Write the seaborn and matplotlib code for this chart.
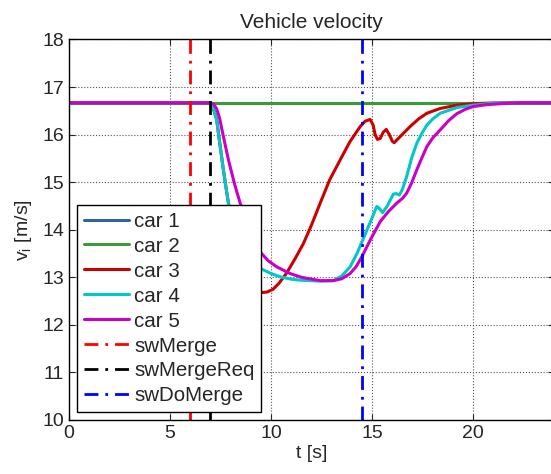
import numpy as np
import pandas as pd
import matplotlib
matplotlib.use('Agg')
import matplotlib.pyplot as plt
import seaborn as sns

# values
t_const = [0, 24]
v_car1 = [16.67, 16.67]
v_car2 = [16.67, 16.67]

t_car3 = [0, 7.0, 7.1, 7.2, 7.31, 7.45, 7.64, 7.8, 7.97, 8.2, 8.47, 8.7, 8.96, 9.2, 9.54, 9.8,
          10.1, 10.4, 10.77, 11.2, 11.6, 12.0, 12.43, 12.9, 13.42, 13.9, 14.41, 14.65, 14.9,
          15.05, 15.15, 15.26, 15.4, 15.55, 15.7, 15.85, 16.0, 16.09, 16.3, 16.6, 16.88, 17.3,
          17.71, 18.37, 19.2, 20.0, 21.0, 22.0, 24.0]
v_car3 = [16.67, 16.67, 16.6, 16.47, 16.31, 15.85, 15.26, 14.8, 14.35, 13.9, 13.43, 13.1, 12.87,
          12.74, 12.68, 12.69, 12.75, 12.88, 13.09, 13.4, 13.71, 14.1, 14.56, 15.05, 15.47, 15.85,
          16.17, 16.28, 16.32, 16.2, 16.0, 15.9, 15.92, 16.05, 16.11, 16.0, 15.86, 15.83, 15.92,
          16.05, 16.17, 16.33, 16.45, 16.55, 16.62, 16.65, 16.665, 16.67, 16.67]

t_car4 = [0, 7.0, 7.1, 7.2, 7.31, 7.45, 7.64, 7.8, 7.97, 8.2, 8.47, 8.9, 9.45, 10.0, 10.45, 11.0,
          11.44, 12.43, 13.08, 13.5, 13.91, 14.25, 14.57, 14.9, 15.23, 15.35, 15.52, 15.75, 16.05,
          16.2, 16.35, 16.5, 16.71, 16.95, 17.21, 17.45, 17.71, 18.0, 18.37, 19.2, 20.0, 21.0,
          22.0, 24.0]
v_car4 = [16.67, 16.67, 16.6, 16.47, 16.31, 15.85, 15.26, 14.8, 14.35, 13.95, 13.65, 13.38, 13.19,
          13.08, 13.01, 12.96, 12.94, 12.92, 12.93, 13.03, 13.22, 13.5, 13.82, 14.15, 14.49, 14.45,
          14.36, 14.5, 14.75, 14.76, 14.73, 14.85, 15.12, 15.5, 15.82, 16.02, 16.2, 16.33, 16.45,
          16.57, 16.62, 16.66, 16.67, 16.67]

t_car5 = [0, 7.0, 7.15, 7.3, 7.45, 7.64, 7.9, 8.2, 8.47, 8.8, 9.1, 9.45, 9.85, 10.28, 10.94, 11.5,
          12.43, 13.08, 13.5, 13.91, 14.2, 14.49, 14.95, 15.4, 15.8, 16.22, 16.5, 16.71, 16.95,
          17.21, 17.45, 17.71, 18.0, 18.37, 18.8, 19.19, 19.6, 20.0, 20.67, 21.67, 22.3, 24.0]
v_car5 = [16.67, 16.67, 16.64, 16.55, 16.35, 15.96, 15.45, 14.95, 14.56, 14.1, 13.8, 13.54, 13.35,
          13.22, 13.08, 13.0, 12.93, 12.93, 12.97, 13.08, 13.22, 13.43, 13.82, 14.17, 14.38, 14.56,
          14.66, 14.77, 14.98, 15.26, 15.5, 15.75, 15.93, 16.1, 16.3, 16.44, 16.53, 16.59, 16.63,
          16.66, 16.67, 16.67]

cars = ['car 1', 'car 2', 'car 3', 'car 4', 'car 5']
car_colors = ['#2f64a0', '#3a9a3a', '#cc0000', '#00c8c8', '#c800c8']

switch_names = ['swMerge', 'swMergeReq', 'swDoMerge']
switch_times = [6.0, 7.0, 14.5]
switch_colors = ['#ff0000', '#000000', '#0000ff']

# build long table for seaborn
frames = []
for name, t, v in zip(cars, [t_const, t_const, t_car3, t_car4, t_car5],
                      [v_car1, v_car2, v_car3, v_car4, v_car5]):
    frames.append(pd.DataFrame({'t': t, 'v': v, 'car': name}))
data = pd.concat(frames, ignore_index=True)

sns.set_style('ticks')
plt.rcParams['font.family'] = ['Liberation Sans', 'DejaVu Sans']
plt.rcParams['mathtext.fontset'] = 'custom'
plt.rcParams['mathtext.rm'] = 'Liberation Sans'

fig = plt.figure(figsize=(5.51, 4.74), dpi=100)
ax = fig.add_axes([69 / 551, 54 / 474, 485 / 551, 380.5 / 474])

sns.lineplot(data=data, x='t', y='v', hue='car', palette=dict(zip(cars, car_colors)),
             estimator=None, sort=False, linewidth=2.2, ax=ax)

for name, ts, c in zip(switch_names, switch_times, switch_colors):
    ax.axvline(ts, color=c, linestyle=(0, (5, 2.5, 1, 2.5)), linewidth=2, label=name)

ax.set_xlim(0, 24)
ax.set_ylim(10, 18)
ax.set_xticks([0, 5, 10, 15, 20])
ax.set_yticks(range(10, 19))
ax.grid(True, linestyle=':', color='#555555', linewidth=0.8)
ax.tick_params(direction='in', labelsize=14, top=True, right=True, length=4, width=0.8)
for s in ax.spines.values():
    s.set_linewidth(1.0)
    s.set_color('black')

ax.set_title('Vehicle velocity', fontsize=15, pad=8)
ax.set_xlabel('t [s]', fontsize=14, labelpad=2)
ax.set_ylabel(r'v$_\mathregular{i}$ [m/s]', fontsize=14, labelpad=6)

handles, labels = ax.get_legend_handles_labels()
leg = ax.legend(handles, labels, loc='lower left', bbox_to_anchor=(0.0165, 0.021),
                borderaxespad=0, fontsize=14.8, frameon=True, fancybox=False,
                handlelength=2.2, handletextpad=0.25, labelspacing=0.29, borderpad=0.32)
leg.get_frame().set_edgecolor('black')
leg.get_frame().set_linewidth(1.0)
leg.get_frame().set_alpha(1)

fig.savefig('out.png', dpi=100)
